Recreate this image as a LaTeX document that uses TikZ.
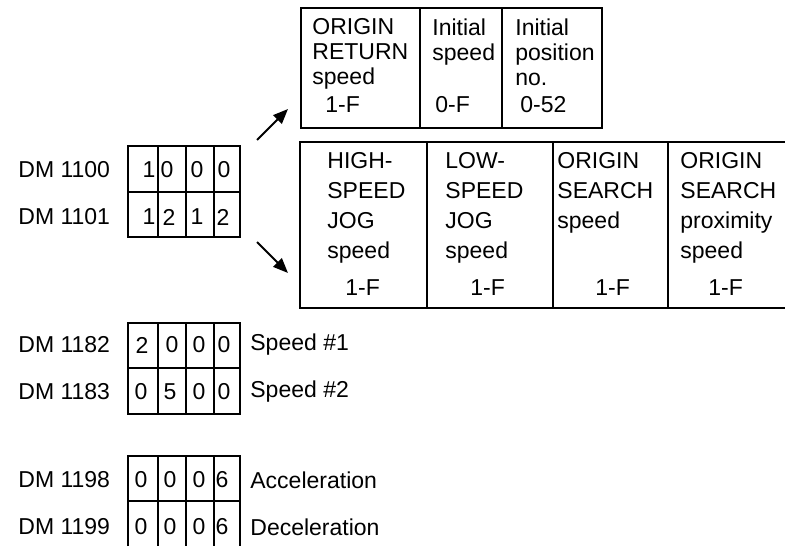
\documentclass[tikz,border=0pt]{standalone}
\usepackage{fontspec}
\setmainfont{Liberation Sans}
\usetikzlibrary{arrows.meta}
\tikzset{
  >=Stealth,
  cellbox/.style={line width=1pt},
  lbl/.style={inner sep=0pt, anchor=west, font=\fontsize{11.5}{12.5}\selectfont},
  dig/.style={inner sep=0pt, font=\fontsize{11.5}{12.5}\selectfont},
  colA/.style={inner sep=0pt, anchor=north west, align=left, font=\fontsize{11.5}{12.5}\selectfont},
  colB/.style={inner sep=0pt, anchor=north west, align=left, font=\fontsize{11.5}{15}\selectfont},
  val/.style={inner sep=0pt, anchor=base west, font=\fontsize{11.5}{12.5}\selectfont},
  tr/.style={-{Triangle[length=7.5pt,width=6pt]}, line width=1pt}
}
\begin{document}
\begin{tikzpicture}[x=0.5pt,y=-0.5pt]
    \useasboundingbox (0,0) rectangle (785,546);

    % === Registers DM 1100 / DM 1101 ===
    \node[lbl] (dm1100) at (18,170) {DM 1100};
    \node[lbl] (dm1101) at (18,217) {DM 1101};
    \draw[cellbox] (128,146) rectangle (240,237);
    \draw[cellbox] (128,192) -- (240,192);
    \foreach \x in {158,186,214} {
        \draw[cellbox] (\x,146) -- (\x,237);
    }
    \foreach \x/\d [count=\i] in {149/1, 167/0, 197/0, 224/0} {
        \node[dig] (a\i) at (\x,170) {\d};
    }
    \foreach \x/\d [count=\i] in {149/1, 169/2, 197/1, 223/2} {
        \node[dig] (b\i) at (\x,217) {\d};
    }

    % arrows to the two word boxes
    \coordinate (upTail) at (257,140);
    \coordinate (upTip) at (288,109);
    \coordinate (dnTail) at (257,242);
    \coordinate (dnTip) at (288,273);
    \draw[tr] (upTail) -- (upTip);
    \draw[tr] (dnTail) -- (dnTip);

    % === Upper word (DM 1100) ===
    \draw[cellbox] (301,8) rectangle (602,128);
    \draw[cellbox] (420,8) -- (420,128);
    \draw[cellbox] (502,8) -- (502,128);
    \node[colA] (retSpd) at (312,18) {ORIGIN\\RETURN\\speed};
    \node[colA] (iniSpd) at (432,18) {Initial\\speed};
    \node[colA] (iniPos) at (515,18) {Initial\\position\\no.};
    \node[val] (retVal) at (325,112) {1-F};
    \node[val] (spdVal) at (435,112) {0-F};
    \node[val] (posVal) at (520,112) {0-52};

    % === Lower word (DM 1101) ===
    \draw[cellbox] (785,142) -- (300,142) -- (300,308) -- (785,308);
    \foreach \x in {427,553,668} {
        \draw[cellbox] (\x,142) -- (\x,308);
    }
    \node[colB] (hiJog) at (327,152) {HIGH-\\SPEED\\JOG\\speed};
    \node[colB] (loJog) at (445,152) {LOW-\\SPEED\\JOG\\speed};
    \node[colB] (srSpd) at (557,152) {ORIGIN\\SEARCH\\speed};
    \node[colB] (prSpd) at (680,152) {ORIGIN\\SEARCH\\proximity\\speed};
    \foreach \x [count=\i] in {345,470,595,708} {
        \node[val] (v\i) at (\x,295) {1-F};
    }

    % === Registers DM 1182 / DM 1183 ===
    \node[lbl] (dm1182) at (18,345) {DM 1182};
    \node[lbl] (dm1183) at (18,392) {DM 1183};
    \draw[cellbox] (128,323) rectangle (240,414);
    \draw[cellbox] (128,368) -- (240,368);
    \foreach \x in {158,186,214} {
        \draw[cellbox] (\x,323) -- (\x,414);
    }
    \foreach \x/\d [count=\i] in {142/2, 172/0, 199/0, 224/0} {
        \node[dig] (c\i) at (\x,345) {\d};
    }
    \foreach \x/\d [count=\i] in {141/0, 170/5, 199/0, 224/0} {
        \node[dig] (d\i) at (\x,392) {\d};
    }
    \node[lbl] (spd1) at (250,345) {Speed \#1};
    \node[lbl] (spd2) at (250,392) {Speed \#2};

    % === Registers DM 1198 / DM 1199 ===
    \node[lbl] (dm1198) at (18,480) {DM 1198};
    \node[lbl] (dm1199) at (18,527) {DM 1199};
    \draw[cellbox] (128,546) -- (128,456) -- (240,456) -- (240,546);
    \draw[cellbox] (128,501) -- (240,501);
    \foreach \x in {158,186,214} {
        \draw[cellbox] (\x,456) -- (\x,546);
    }
    \foreach \x/\d [count=\i] in {141/0, 170/0, 199/0, 222/6} {
        \node[dig] (e\i) at (\x,480) {\d};
        \node[dig] (f\i) at (\x,527) {\d};
    }
    \node[lbl] (accel) at (250,480) {Acceleration};
    \node[lbl] (decel) at (250,527) {Deceleration};

\end{tikzpicture}
\end{document}
